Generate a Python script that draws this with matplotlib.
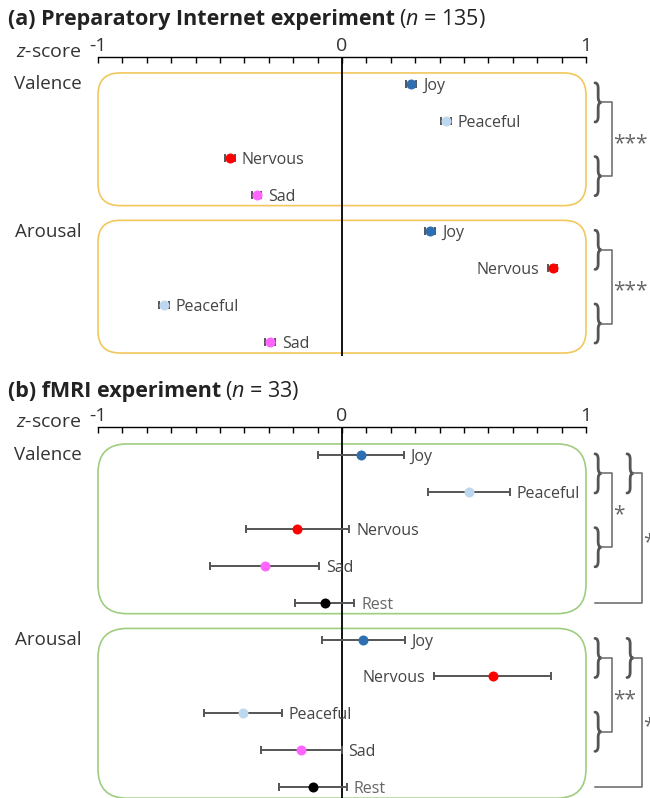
import numpy as np
import matplotlib.pyplot as plt
from matplotlib.patches import FancyBboxPatch, PathPatch
from matplotlib.path import Path

# --------------- Data ---------------
# (a) preparatory internet experiment, small errors
a_val_labels = ['Joy', 'Peaceful', 'Nervous', 'Sad']
a_val_mean = [0.283, 0.426, -0.459, -0.350]
a_val_err = [0.02, 0.02, 0.02, 0.02]

a_aro_labels = ['Joy', 'Nervous', 'Peaceful', 'Sad']
a_aro_mean = [0.361, 0.863, -0.730, -0.295]
a_aro_err = [0.02, 0.02, 0.02, 0.02]

# (b) fMRI experiment
b_val_labels = ['Joy', 'Peaceful', 'Nervous', 'Sad', 'Rest']
b_val_mean = [0.077, 0.519, -0.183, -0.317, -0.070]
b_val_err = [0.176, 0.168, 0.212, 0.223, 0.121]

b_aro_labels = ['Joy', 'Nervous', 'Peaceful', 'Sad', 'Rest']
b_aro_mean = [0.087, 0.617, -0.406, -0.168, -0.120]
b_aro_err = [0.170, 0.241, 0.159, 0.166, 0.140]

left_labelled = {'a_aro': ['Nervous'], 'b_aro': ['Nervous']}

colors = {'Joy': '#2e6fb2', 'Peaceful': '#bdd7ee', 'Nervous': '#ff0000',
          'Sad': '#ff66ff', 'Rest': '#000000'}

# --------------- Style ---------------
FONT = 'Open Sans'
plt.rcParams['font.family'] = [FONT, 'DejaVu Sans']
plt.rcParams['mathtext.fontset'] = 'custom'
plt.rcParams['mathtext.rm'] = FONT
plt.rcParams['mathtext.it'] = FONT + ':italic'
plt.rcParams['mathtext.bf'] = FONT + ':bold'

W, H = 650, 798
PX = 244.0  # pixels per z unit
TXT = '#444444'
GRAY = '#555555'

fig = plt.figure(figsize=(W / 100, H / 100), dpi=100)


def panel(top, bot, row0, step):
    ax = fig.add_axes([98 / W, 1 - bot / H, 488 / W, (bot - top) / H])
    ax.set_xlim(-1, 1)
    ax.set_ylim((bot - row0) / step, -(row0 - top) / step)
    ax.patch.set_visible(False)
    for s in ['left', 'right', 'bottom']:
        ax.spines[s].set_visible(False)
    ax.spines['top'].set_linewidth(1.0)
    ax.xaxis.tick_top()
    ax.set_xticks([-1, 0, 1])
    ax.set_xticklabels(['-1', '0', '1'])
    ax.set_xticks(np.linspace(-1, 1, 21), minor=True)
    ax.tick_params(axis='x', which='both', direction='in', length=4, width=1,
                   labelsize=14, pad=1.5, labelcolor='#333333')
    ax.set_yticks([])
    ax.axvline(0, color='black', lw=1.3, zorder=1)
    ax.annotate('$z$-score', xy=(-1.066, 1), xycoords=('data', 'axes fraction'),
                xytext=(0, 0), textcoords='offset points', ha='right',
                va='baseline', fontsize=14, color='#333333', annotation_clip=False)
    return ax


def box(ax, step, r0, r1, color, rad):
    y0, y1 = r0 - 0.3, r1 + 0.3
    p = FancyBboxPatch((-1, y0), 2, y1 - y0,
                       boxstyle=f'round,pad=0,rounding_size={rad / PX}',
                       mutation_aspect=PX / step, fc='none', ec=color, lw=1.2,
                       clip_on=False, zorder=0)
    ax.add_patch(p)


def points(ax, rows, labels, means, errs, left=()):
    for r, lab, m, e in zip(rows, labels, means, errs):
        ax.errorbar(m, r, xerr=e, fmt='none', ecolor=GRAY, elinewidth=1.4,
                    capsize=3, capthick=1.4, zorder=3)
        ax.plot(m, r, 'o', ms=7.2, color=colors[lab], mec='none', zorder=4)
        c = '#666666' if lab == 'Rest' else TXT
        if lab in left:
            ax.annotate(lab, (m - e, r), xytext=(-6, 0), textcoords='offset points',
                        ha='right', va='center_baseline', fontsize=11.5, color=c)
        else:
            ax.annotate(lab, (m + e, r), xytext=(5, 0), textcoords='offset points',
                        ha='left', va='center_baseline', fontsize=11.5, color=c)


def brace(ax, x0, ya, yb, w=0.026):
    xm = x0 + w / 2
    ym = (ya + yb) / 2
    q = 0.15
    verts = [(x0, ya), (xm, ya), (xm, ya + q), (xm, ym - q), (xm, ym), (x0 + w, ym),
             (xm, ym), (xm, ym + q), (xm, yb - q), (xm, yb), (x0, yb)]
    codes = [Path.MOVETO, Path.CURVE3, Path.CURVE3, Path.LINETO, Path.CURVE3,
             Path.CURVE3, Path.CURVE3, Path.CURVE3, Path.LINETO, Path.CURVE3,
             Path.CURVE3]
    ax.add_patch(PathPatch(Path(verts, codes), fc='none', ec=GRAY, lw=2.0,
                           clip_on=False, capstyle='round'))
    return x0 + w, ym


def zx(px):
    return (px - 342) / PX


def bracket(ax, g1, g2, stars, star_dy=0.12):
    t1x, t1y = brace(ax, zx(595), g1[0] - 0.03, g1[1] + 0.03)
    t2x, t2y = brace(ax, zx(595), g2[0] - 0.03, g2[1] + 0.03)
    xl = zx(612)
    ax.plot([t1x, xl, xl, t2x], [t1y, t1y, t2y, t2y], color='#666666', lw=1.1,
            clip_on=False)
    ax.text(zx(613), (t1y + t2y) / 2 + star_dy, stars, ha='left', va='center',
            fontsize=15, color='#666666', clip_on=False)


def rest_bracket(ax, g1, rest_row, stars, star_dy=0.12):
    tx, ty = brace(ax, zx(627), g1[0] - 0.03, g1[1] + 0.03)
    xl = zx(642)
    ax.plot([tx, xl, xl, zx(595)], [ty, ty, rest_row, rest_row], color='#666666',
            lw=1.1, clip_on=False)
    # star sits at the figure edge and is partly cut off, as in the original
    ax.text(zx(643), (ty + rest_row) / 2 + star_dy, stars, ha='left', va='center',
            fontsize=15, color='#666666', clip_on=False)


def group_label(ax, row, text):
    ax.text(-1.066, row - 0.05, text, ha='right', va='center_baseline',
            fontsize=13.5, color='#333333', clip_on=False)


def title(y, bold, rest):
    t = fig.text(8 / W, 1 - y / H, bold, fontsize=15.5, fontweight='bold',
                 color='#222222', va='baseline')
    fig.canvas.draw()
    bb = t.get_window_extent()
    fig.text(bb.x1 / W + 4 / W, 1 - y / H, rest, fontsize=15.5, color='#222222',
             va='baseline')


# --------------- Panel (a) ---------------
step_a = 36.85
ax_a = panel(57, 356, 84, step_a)
box(ax_a, step_a, 0, 3, '#f2c75c', 22)
box(ax_a, step_a, 4, 7, '#f2c75c', 22)
points(ax_a, range(0, 4), a_val_labels, a_val_mean, a_val_err)
points(ax_a, range(4, 8), a_aro_labels, a_aro_mean, a_aro_err,
       left=left_labelled['a_aro'])
group_label(ax_a, 0, 'Valence')
group_label(ax_a, 4, 'Arousal')
bracket(ax_a, (0, 1), (2, 3), '***')
bracket(ax_a, (4, 5), (6, 7), '***')

# --------------- Panel (b) ---------------
step_b = 36.9
ax_b = panel(427, 798, 455, step_b)
box(ax_b, step_b, 0, 4, '#9fcd80', 29)
box(ax_b, step_b, 5, 9, '#9fcd80', 29)
points(ax_b, range(0, 5), b_val_labels, b_val_mean, b_val_err)
points(ax_b, range(5, 10), b_aro_labels, b_aro_mean, b_aro_err,
       left=left_labelled['b_aro'])
group_label(ax_b, 0, 'Valence')
group_label(ax_b, 5, 'Arousal')
bracket(ax_b, (0, 1), (2, 3), '*')
rest_bracket(ax_b, (0, 1), 4, '*')
bracket(ax_b, (5, 6), (7, 8), '**')
rest_bracket(ax_b, (5, 6), 9, '*')

title(25, '(a) Preparatory Internet experiment', '($n$ = 135)')
title(397, '(b) fMRI experiment', '($n$ = 33)')

fig.savefig('out.png', dpi=100)
